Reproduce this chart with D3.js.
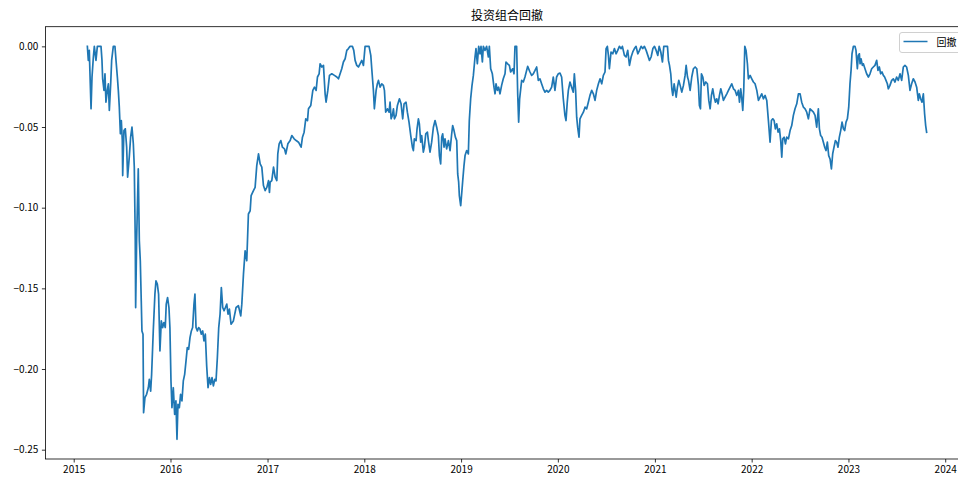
<!DOCTYPE html>
<html><head><meta charset="utf-8">
<script src="https://cdn.jsdelivr.net/npm/d3@7"></script>
<style>
body{margin:0;background:#fff;}
svg{display:block;}
text{font-family:"Noto Sans CJK SC","DejaVu Sans",sans-serif;}
</style>
</head><body>
<svg id="chart" width="958" height="479"></svg>
<script>
// ---------- data (time as decimal year, drawdown value) ----------
const chartTitle = "投资组合回撤";
const seriesName = "回撤";
const yTickValues = [0, -0.05, -0.10, -0.15, -0.20, -0.25];
const xTickYears = [2015, 2016, 2017, 2018, 2019, 2020, 2021, 2022, 2023, 2024];

const dd2015 = [
[2015.141,0],[2015.151,-0.0087],[2015.161,-0.0025],[2015.168,-0.0170],[2015.179,-0.0387],[2015.189,-0.0190],[2015.203,-0.0066],[2015.213,0],[2015.230,-0.0087],[2015.244,0],
[2015.265,0],[2015.282,0],[2015.292,-0.0087],[2015.299,-0.0201],[2015.313,-0.0273],[2015.323,-0.0170],[2015.333,-0.0346],[2015.347,-0.0273],[2015.358,-0.0232],[2015.368,-0.0397],
[2015.382,-0.0232],[2015.392,-0.0087],[2015.409,0],[2015.426,0],[2015.437,-0.0087],[2015.451,-0.0190],[2015.461,-0.0273],[2015.471,-0.0377],[2015.482,-0.0542],[2015.492,-0.0460],
[2015.502,-0.0584],[2015.506,-0.0801],[2015.519,-0.0522],[2015.533,-0.0511],[2015.547,-0.0625],[2015.557,-0.0811],[2015.574,-0.0687],[2015.588,-0.0563],[2015.602,-0.0501],[2015.616,-0.0604],
[2015.626,-0.0749],[2015.636,-0.1205],[2015.640,-0.1619],[2015.650,-0.1205],[2015.667,-0.0760],[2015.678,-0.1205],[2015.688,-0.1329],[2015.698,-0.1578],[2015.705,-0.1764],[2015.716,-0.1784],
[2015.722,-0.2271],[2015.736,-0.2178],[2015.753,-0.2157],[2015.771,-0.2116],[2015.781,-0.2064],[2015.795,-0.2137],[2015.805,-0.2033],[2015.822,-0.1764],[2015.839,-0.1536],[2015.850,-0.1453],
[2015.864,-0.1474],[2015.877,-0.1536],[2015.891,-0.1888],[2015.905,-0.1702],[2015.919,-0.1743],[2015.932,-0.1712],[2015.946,-0.1743],[2015.956,-0.1598],[2015.970,-0.1557],[2015.984,-0.1619]
];
const dd2016 = [
[2015.994,-0.1743],[2016.005,-0.2074],[2016.015,-0.2240],[2016.029,-0.2116],[2016.043,-0.2281],[2016.056,-0.2198],[2016.067,-0.2436],[2016.077,-0.2219],[2016.091,-0.2240],[2016.104,-0.2157],
[2016.118,-0.2198],[2016.132,-0.2074],[2016.146,-0.2033],[2016.160,-0.1950],[2016.173,-0.1867],[2016.187,-0.1878],[2016.201,-0.1805],[2016.215,-0.1764],[2016.228,-0.1743],[2016.242,-0.1598],
[2016.252,-0.1536],[2016.263,-0.1743],[2016.277,-0.1764],[2016.290,-0.1743],[2016.304,-0.1753],[2016.318,-0.1784],[2016.332,-0.1764],[2016.345,-0.1826],[2016.359,-0.1784],[2016.373,-0.1981],
[2016.387,-0.2116],[2016.401,-0.2053],[2016.414,-0.2095],[2016.428,-0.2053],[2016.442,-0.2105],[2016.456,-0.2064],[2016.469,-0.2074],[2016.483,-0.1929],[2016.497,-0.1743],[2016.511,-0.1660],
[2016.524,-0.1495],[2016.538,-0.1619],[2016.552,-0.1639],[2016.566,-0.1619],[2016.580,-0.1598],[2016.593,-0.1660],[2016.607,-0.1629],
[2016.624,-0.1722],[2016.648,-0.1702],[2016.676,-0.1619],[2016.700,-0.1608],[2016.724,-0.1671],[2016.735,-0.1598],[2016.752,-0.1412],[2016.769,-0.1267],[2016.786,-0.1329],[2016.803,-0.1039],
[2016.821,-0.1019],[2016.831,-0.0925],[2016.855,-0.0894],[2016.872,-0.0874],[2016.889,-0.0739],[2016.907,-0.0667],[2016.924,-0.0729],[2016.941,-0.0749],[2016.958,-0.0863],[2016.975,-0.0894],
[2016.993,-0.0874]
];
const dd2017 = [
[2017.010,-0.0832],[2017.020,-0.0905],[2017.027,-0.0842],[2017.044,-0.0832],[2017.062,-0.0749],[2017.079,-0.0811],[2017.096,-0.0832],[2017.106,-0.0667],[2017.120,-0.0604],[2017.137,-0.0584],
[2017.154,-0.0625],[2017.175,-0.0635],[2017.189,-0.0667],[2017.210,-0.0604],[2017.234,-0.0584],[2017.251,-0.0553],[2017.275,-0.0573],[2017.296,-0.0584],[2017.320,-0.0594],[2017.347,-0.0625],
[2017.361,-0.0563],[2017.378,-0.0532],[2017.395,-0.0449],[2017.413,-0.0460],[2017.423,-0.0387],[2017.447,-0.0366],[2017.468,-0.0273],[2017.485,-0.0253],[2017.502,-0.0273],[2017.516,-0.0190],
[2017.533,-0.0170],[2017.543,-0.0108],[2017.561,-0.0128],[2017.578,-0.0118],[2017.595,-0.0294],[2017.605,-0.0346],[2017.623,-0.0273],[2017.640,-0.0180],[2017.664,-0.0170],[2017.691,-0.0180],
[2017.716,-0.0190],[2017.733,-0.0201],[2017.750,-0.0170],[2017.767,-0.0139],[2017.784,-0.0097],[2017.802,-0.0077],[2017.819,-0.0025],[2017.836,-0.0014],[2017.853,0],[2017.877,0],
[2017.891,-0.0025],[2017.905,-0.0087],[2017.922,-0.0118],[2017.939,-0.0128],[2017.956,-0.0108],[2017.974,-0.0087],[2017.991,-0.0118]
];
const dd2018 = [
[2018.008,0],[2018.036,0],[2018.049,0],[2018.067,-0.0056],[2018.077,-0.0139],[2018.094,-0.0273],[2018.104,-0.0387],
[2018.122,-0.0273],[2018.135,-0.0232],[2018.146,-0.0211],[2018.163,-0.0253],[2018.180,-0.0232],[2018.197,-0.0242],[2018.208,-0.0273],[2018.221,-0.0408],[2018.239,-0.0387],[2018.256,-0.0408],
[2018.266,-0.0346],[2018.277,-0.0449],[2018.290,-0.0428],[2018.301,-0.0387],[2018.311,-0.0449],[2018.328,-0.0428],[2018.342,-0.0366],[2018.363,-0.0325],[2018.380,-0.0356],[2018.397,-0.0449],
[2018.411,-0.0356],[2018.431,-0.0346],[2018.445,-0.0408],[2018.462,-0.0470],[2018.480,-0.0553],[2018.497,-0.0625],[2018.507,-0.0646],[2018.517,-0.0573],[2018.535,-0.0584],[2018.545,-0.0511],
[2018.559,-0.0449],[2018.569,-0.0480],[2018.583,-0.0594],[2018.593,-0.0553],[2018.610,-0.0656],[2018.621,-0.0625],[2018.635,-0.0542],[2018.652,-0.0532],[2018.662,-0.0584],[2018.679,-0.0656],
[2018.696,-0.0594],[2018.714,-0.0501],[2018.731,-0.0460],[2018.748,-0.0501],[2018.765,-0.0553],[2018.776,-0.0677],[2018.789,-0.0729],[2018.800,-0.0563],[2018.810,-0.0542],[2018.824,-0.0625],
[2018.834,-0.0573],[2018.851,-0.0635],[2018.869,-0.0584],[2018.886,-0.0646],[2018.903,-0.0542],[2018.913,-0.0491],[2018.927,-0.0522],[2018.941,-0.0563],[2018.955,-0.0584],[2018.965,-0.0791],
[2018.975,-0.0842],[2018.982,-0.0925],[2018.996,-0.0987]
];
const dd2019 = [
[2019.006,-0.0915],[2019.017,-0.0832],[2019.030,-0.0739],[2019.041,-0.0677],[2019.058,-0.0646],[2019.075,-0.0667],[2019.085,-0.0460],[2019.099,-0.0325],[2019.113,-0.0242],[2019.127,-0.0180],
[2019.144,-0.0066],[2019.154,-0.0014],[2019.168,-0.0108],[2019.182,0],[2019.196,-0.0046],[2019.206,0],[2019.220,-0.0097],[2019.230,0],[2019.247,-0.0025],[2019.264,0],
[2019.282,-0.0066],[2019.292,0],[2019.306,-0.0139],[2019.323,-0.0170],[2019.340,-0.0253],[2019.351,-0.0294],[2019.361,-0.0232],[2019.375,-0.0273],[2019.388,-0.0253],[2019.402,-0.0294],
[2019.419,-0.0242],[2019.436,-0.0201],[2019.454,-0.0170],[2019.464,-0.0097],[2019.481,-0.0108],[2019.499,-0.0118],[2019.512,-0.0159],[2019.533,-0.0139],[2019.547,-0.0170],[2019.557,0],
[2019.574,0],[2019.585,-0.0294],[2019.595,-0.0470],
[2019.605,-0.0325],[2019.626,-0.0211],[2019.643,-0.0221],[2019.660,-0.0190],[2019.688,-0.0124],[2019.712,-0.0159],[2019.729,-0.0180],[2019.746,-0.0170],[2019.764,-0.0149],[2019.781,-0.0128],
[2019.798,-0.0211],[2019.815,-0.0201],[2019.832,-0.0232],[2019.850,-0.0263],[2019.867,-0.0284],[2019.884,-0.0273],[2019.901,-0.0284],[2019.918,-0.0273],[2019.936,-0.0253],[2019.953,-0.0190],
[2019.970,-0.0273],[2019.987,-0.0190]
];
const dd2020 = [
[2020.004,-0.0170],[2020.022,-0.0166],[2020.039,-0.0190],[2020.056,-0.0325],[2020.073,-0.0428],[2020.084,-0.0460],[2020.097,-0.0346],[2020.108,-0.0273],[2020.125,-0.0221],[2020.142,-0.0253],
[2020.159,-0.0284],[2020.170,-0.0170],[2020.183,-0.0273],[2020.194,-0.0439],[2020.204,-0.0501],[2020.218,-0.0563],[2020.228,-0.0449],[2020.245,-0.0428],[2020.263,-0.0408],[2020.280,-0.0377],
[2020.297,-0.0387],[2020.314,-0.0346],[2020.331,-0.0304],[2020.349,-0.0273],[2020.366,-0.0294],[2020.383,-0.0335],[2020.400,-0.0273],[2020.418,-0.0232],[2020.435,-0.0201],[2020.452,-0.0232],
[2020.469,-0.0180],[2020.486,-0.0159],[2020.497,-0.0014],[2020.510,0],[2020.521,-0.0056],[2020.531,-0.0139],[2020.548,-0.0035],[2020.566,-0.0046],[2020.583,-0.0014],[2020.600,-0.0046],
[2020.617,-0.0025],[2020.634,0],[2020.652,-0.0014],[2020.665,0],[2020.686,-0.0056],[2020.703,-0.0066],[2020.720,-0.0025],[2020.738,-0.0118],[2020.755,-0.0066],[2020.772,-0.0035],
[2020.789,-0.0014],[2020.806,0],[2020.824,-0.0046],[2020.841,-0.0025],[2020.858,0],[2020.875,-0.0014],[2020.892,0],[2020.910,-0.0025],[2020.927,-0.0056],[2020.944,-0.0087],
[2020.961,-0.0066],[2020.979,-0.0014],[2020.996,0]
];
const dd2021 = [
[2021.013,-0.0025],[2021.030,-0.0056],[2021.044,0],[2021.061,-0.0035],[2021.078,-0.0097],[2021.092,0],[2021.109,0],[2021.130,0],[2021.140,-0.0087],[2021.151,-0.0118],
[2021.164,-0.0170],[2021.175,-0.0263],[2021.185,-0.0304],[2021.199,-0.0232],[2021.209,-0.0273],[2021.220,-0.0315],[2021.233,-0.0253],[2021.247,-0.0211],[2021.261,-0.0242],[2021.278,-0.0284],
[2021.295,-0.0242],[2021.312,-0.0180],[2021.323,-0.0118],[2021.337,-0.0190],[2021.347,-0.0211],[2021.364,-0.0273],[2021.381,-0.0190],[2021.398,-0.0139],[2021.416,-0.0128],[2021.433,-0.0139],
[2021.450,-0.0242],[2021.460,-0.0366],[2021.471,-0.0387],[2021.481,-0.0170],[2021.495,-0.0190],[2021.509,-0.0242],[2021.526,-0.0221],[2021.543,-0.0232],[2021.557,-0.0335],[2021.571,-0.0387],
[2021.584,-0.0304],[2021.598,-0.0263],[2021.612,-0.0315],[2021.626,-0.0346],[2021.639,-0.0325],[2021.653,-0.0356],[2021.667,-0.0304],[2021.681,-0.0263],[2021.694,-0.0294],[2021.708,-0.0335],
[2021.725,-0.0315],[2021.743,-0.0294],[2021.760,-0.0273],[2021.777,-0.0253],[2021.794,-0.0232],[2021.812,-0.0263],[2021.829,-0.0273],[2021.846,-0.0304],[2021.863,-0.0273],[2021.874,-0.0346],
[2021.887,-0.0263],[2021.898,-0.0325],[2021.908,-0.0397],[2021.918,-0.0273],[2021.929,0],[2021.942,-0.0025],[2021.956,-0.0108],[2021.966,-0.0201],[2021.984,-0.0180]
];
const dd2022 = [
[2022.001,-0.0201],[2022.018,-0.0221],[2022.035,-0.0232],[2022.053,-0.0273],[2022.070,-0.0335],[2022.087,-0.0315],[2022.104,-0.0294],[2022.121,-0.0325],[2022.139,-0.0304],[2022.156,-0.0335],
[2022.173,-0.0460],[2022.190,-0.0594],[2022.204,-0.0460],[2022.218,-0.0449],[2022.232,-0.0460],[2022.245,-0.0511],[2022.259,-0.0480],[2022.273,-0.0532],[2022.287,-0.0511],[2022.300,-0.0584],
[2022.311,-0.0687],[2022.321,-0.0573],[2022.335,-0.0563],[2022.349,-0.0604],[2022.362,-0.0563],[2022.380,-0.0573],[2022.397,-0.0522],[2022.414,-0.0491],[2022.431,-0.0428],[2022.448,-0.0387],
[2022.466,-0.0356],[2022.483,-0.0294],[2022.500,-0.0294],[2022.517,-0.0346],[2022.535,-0.0377],[2022.552,-0.0387],[2022.569,-0.0408],[2022.586,-0.0449],[2022.603,-0.0387],[2022.620,-0.0397],
[2022.638,-0.0408],[2022.655,-0.0428],[2022.672,-0.0501],[2022.689,-0.0387],[2022.700,-0.0511],[2022.713,-0.0553],[2022.727,-0.0563],[2022.741,-0.0594],[2022.755,-0.0625],[2022.768,-0.0646],
[2022.782,-0.0594],[2022.796,-0.0677],[2022.810,-0.0698],[2022.824,-0.0760],[2022.837,-0.0667],[2022.851,-0.0625],[2022.865,-0.0584],[2022.879,-0.0594],[2022.892,-0.0625],[2022.906,-0.0563],
[2022.920,-0.0522],[2022.934,-0.0470],[2022.948,-0.0511],[2022.961,-0.0522],[2022.975,-0.0470],[2022.989,-0.0449]
];
const dd2023 = [
[2023.003,-0.0377],[2023.016,-0.0232],[2023.027,-0.0149],[2023.037,-0.0046],[2023.051,0],[2023.068,0],[2023.078,-0.0025],[2023.092,-0.0139],[2023.102,-0.0056],[2023.113,-0.0046],
[2023.120,-0.0108],[2023.130,-0.0077],[2023.144,-0.0118],[2023.154,-0.0108],[2023.171,-0.0139],[2023.188,-0.0170],[2023.206,-0.0190],[2023.223,-0.0170],[2023.240,-0.0139],[2023.257,-0.0128],
[2023.274,-0.0118],[2023.292,-0.0087],[2023.305,-0.0149],[2023.319,-0.0128],[2023.333,-0.0170],[2023.347,-0.0159],[2023.361,-0.0180],[2023.374,-0.0190],[2023.388,-0.0211],[2023.402,-0.0232],
[2023.412,-0.0263],[2023.429,-0.0242],[2023.447,-0.0211],[2023.464,-0.0201],[2023.481,-0.0221],[2023.498,-0.0190],[2023.515,-0.0211],[2023.533,-0.0170],[2023.550,-0.0211],[2023.567,-0.0128],
[2023.584,-0.0118],[2023.601,-0.0128],[2023.619,-0.0180],[2023.636,-0.0273],[2023.653,-0.0232],[2023.670,-0.0201],[2023.688,-0.0221],[2023.705,-0.0253],[2023.722,-0.0335],[2023.732,-0.0294],
[2023.746,-0.0325],[2023.760,-0.0346],[2023.774,-0.0294],[2023.787,-0.0418],[2023.798,-0.0491],[2023.808,-0.0532]
];

// ---------- build ----------
function yearToDate(t){
  const yr = Math.floor(t);
  const s = Date.UTC(yr,0,1), e = Date.UTC(yr+1,0,1);
  return new Date(s + (t-yr)*(e-s));
}
const data = [].concat(dd2015, dd2016, dd2017, dd2018, dd2019, dd2020, dd2021, dd2022, dd2023)
  .map(([t,v]) => ({date: yearToDate(t), value: v}));

const svg = d3.select("#chart");
const axL = 45.4, axR = 968.6, axT = 26.7, axB = 459;

const tExt = d3.extent(data, d => +d.date);
const tPad = (tExt[1]-tExt[0])*0.05;
const x = d3.scaleUtc().domain([new Date(tExt[0]-tPad), new Date(tExt[1]+tPad)]).range([axL, axR]);
const vExt = d3.extent(data, d => d.value);
const vPad = (vExt[1]-vExt[0])*0.05;
const y = d3.scaleLinear().domain([vExt[0]-vPad, vExt[1]+vPad]).range([axB, axT]);

// line
svg.append("path")
  .datum(data)
  .attr("fill","none")
  .attr("stroke","#1f77b4")
  .attr("stroke-width",1.7)
  .attr("stroke-linejoin","round")
  .attr("stroke-linecap","square")
  .attr("d", d3.line().x(d => x(d.date)).y(d => y(d.value)));

// axes
const xAxis = d3.axisBottom(x)
  .tickValues(xTickYears.map(yr => new Date(Date.UTC(yr,0,1))))
  .tickFormat(d3.utcFormat("%Y"))
  .tickSize(3.5).tickPadding(3.5).tickSizeOuter(0);
const gx = svg.append("g").attr("transform",`translate(0,${axB})`).call(xAxis);
gx.select(".domain").remove();
gx.selectAll("text").attr("font-size",10).attr("fill","#000")
  .style("font-family",'"Noto Sans CJK SC","DejaVu Sans",sans-serif');
gx.selectAll("line").attr("stroke","#000").attr("stroke-width",0.8);

const yAxis = d3.axisLeft(y)
  .tickValues(yTickValues)
  .tickFormat(d3.format(".2f"))
  .tickSize(3.5).tickPadding(3.5).tickSizeOuter(0);
const gy = svg.append("g").attr("transform",`translate(${axL},0)`).call(yAxis);
gy.select(".domain").remove();
gy.selectAll("text").attr("font-size",10).attr("fill","#000")
  .style("font-family",'"Noto Sans CJK SC","DejaVu Sans",sans-serif');
gy.selectAll("line").attr("stroke","#000").attr("stroke-width",0.8);

// spines
svg.append("rect")
  .attr("x",axL).attr("y",axT).attr("width",axR-axL).attr("height",axB-axT)
  .attr("fill","none").attr("stroke","#000").attr("stroke-width",0.8);

// title
svg.append("text")
  .attr("x",(axL+axR)/2).attr("y",20)
  .attr("text-anchor","middle")
  .attr("font-size",12).attr("fill","#000")
  .text(chartTitle);

// legend
const lg = svg.append("g");
lg.append("rect")
  .attr("x",899.5).attr("y",32.5).attr("width",64).attr("height",20).attr("rx",2.5)
  .attr("fill","#fff").attr("fill-opacity",0.8)
  .attr("stroke","#d0d0d0").attr("stroke-width",1);
lg.append("line")
  .attr("x1",903.5).attr("x2",927.5).attr("y1",41.5).attr("y2",41.5)
  .attr("stroke","#1f77b4").attr("stroke-width",1.5);
lg.append("text")
  .attr("x",936.5).attr("y",45.5)
  .attr("font-size",10).attr("fill","#000")
  .text(seriesName);
</script>
</body></html>
